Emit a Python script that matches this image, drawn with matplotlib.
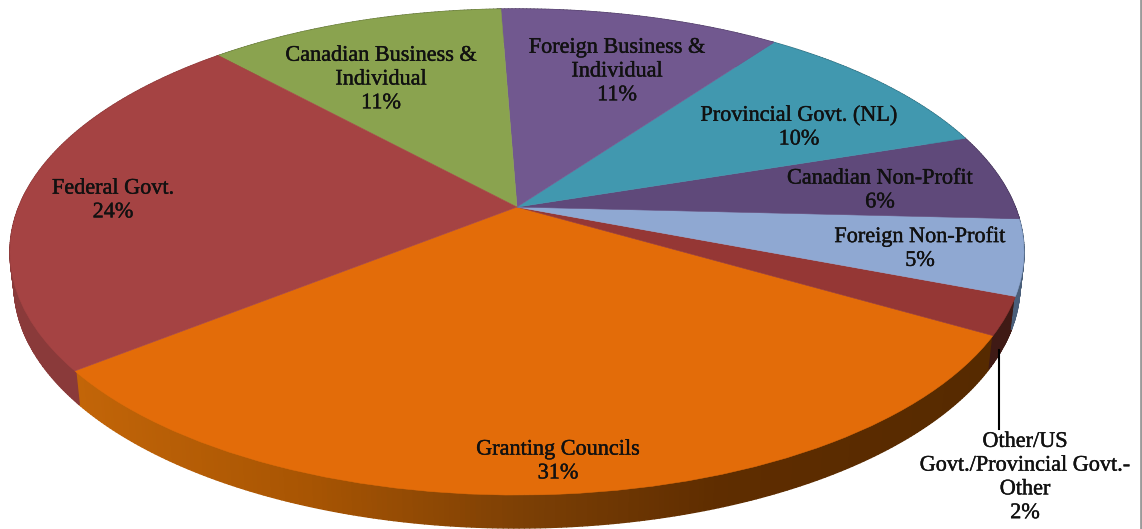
import numpy as np
import matplotlib
matplotlib.use("Agg")
import matplotlib.pyplot as plt
import matplotlib.patheffects as pe
from matplotlib.collections import PolyCollection
from matplotlib.colors import LinearSegmentedColormap
from matplotlib.transforms import Transform

# slices in drawing order, starting at the Granting Councils edge
values = [31.1, 2.5, 5.0, 5.8, 9.9, 10.7, 11.3, 23.7]
labels = [
    "Granting Councils\n31%",
    "",
    "Foreign Non-Profit\n5%",
    "Canadian Non-Profit\n6%",
    "Provincial Govt. (NL)\n10%",
    "Foreign Business &\nIndividual\n11%",
    "Canadian Business &\nIndividual\n11%",
    "Federal Govt.\n24%",
]
other_label = "Other/US\nGovt./Provincial Govt.-\nOther\n2%"

top_colors = ["#e36c09", "#953735", "#8fa8d2", "#5f497a",
              "#4198af", "#71588f", "#8aa34f", "#a54343"]
wall_colors = ["#7a3e05", "#3f1a15", "#4a5f7a", "#3f3052",
               "#2b6574", "#4b3a60", "#5c6d34", "#8a3a3a"]

# pixel positions of the labels
label_x = [558, 0, 920, 880, 799, 617, 381, 113]
label_y = [462, 0, 249, 191, 128, 72, 80, 201]

# ellipse of the top face, in pixels
CX, CY, RX, RY = 517, 252, 507, 243
APEX = 0.185     # apex sits above the ellipse centre (perspective)
DEPTH = 33
BOTTOM_SCALE = 0.992   # lower rim is a bit narrower than the top one


def persp(xy):
    x, y = xy[:, 0], xy[:, 1]
    w = 1 + APEX * y
    nx = np.sqrt(1 - APEX ** 2) * x / w
    ny = (y + APEX) / w
    return np.column_stack([CX + RX * nx, CY - RY * ny])


class PerspTransform(Transform):
    input_dims = 2
    output_dims = 2

    def transform_non_affine(self, values):
        return persp(np.asarray(values))


fig = plt.figure(figsize=(11.42, 5.29), dpi=100)
ax = fig.add_axes([0, 0, 1, 1])

wedges, _ = ax.pie(values, startangle=218.2, colors=top_colors,
                   wedgeprops={"linewidth": 0})
to_pixels = PerspTransform() + ax.transData
for w, c in zip(wedges, top_colors):
    w.set_transform(to_pixels)
    w.set_edgecolor(c)
    w.set_linewidth(0.4)
    w.set_zorder(3)

# side wall, thin strips so the orange part can have its gradient
orange_wall = LinearSegmentedColormap.from_list(
    "orange_wall", [(0, "#c26508"), (0.25, "#a85503"), (0.5, "#7a3e05"),
                    (0.7, "#5f2d00"), (1, "#562a00")])
quads = []
quad_colors = []
for i, w in enumerate(wedges):
    t = np.radians(np.arange(w.theta1, w.theta2 + 0.5, 0.5))
    edge = persp(np.column_stack([np.cos(t), np.sin(t)]))
    low = edge.copy()
    low[:, 0] = CX + (low[:, 0] - CX) * BOTTOM_SCALE
    low[:, 1] += DEPTH
    for j in range(len(edge) - 1):
        quads.append([edge[j], edge[j + 1], low[j + 1], low[j]])
        if i == 0:
            quad_colors.append(orange_wall((edge[j, 0] - 77) / 913))
        else:
            quad_colors.append(wall_colors[i])
ax.add_collection(PolyCollection(quads, facecolors=quad_colors,
                                 edgecolors=quad_colors, linewidths=1.0, zorder=2))

# leader line of the small slice
ax.plot([999, 999], [350, 429], color="black", lw=1.5, zorder=4)
# grey edge of the original screenshot
ax.plot([1141, 1141], [0, 529], color="#9a9a9a", lw=2, zorder=4)

text_style = dict(ha="center", va="center", family="Liberation Serif", fontsize=16,
                  color="#111111", linespacing=1.34, zorder=5,
                  path_effects=[pe.withStroke(linewidth=0.3, foreground="#111111")])
for name, x, y in zip(labels, label_x, label_y):
    if name:
        ax.text(x, y, name, **text_style)
ax.text(1025, 478, other_label, **text_style)

ax.set_xlim(0, 1142)
ax.set_ylim(529, 0)
ax.set_aspect("auto")
ax.axis("off")

fig.savefig("out.png", dpi=100, facecolor="white")
